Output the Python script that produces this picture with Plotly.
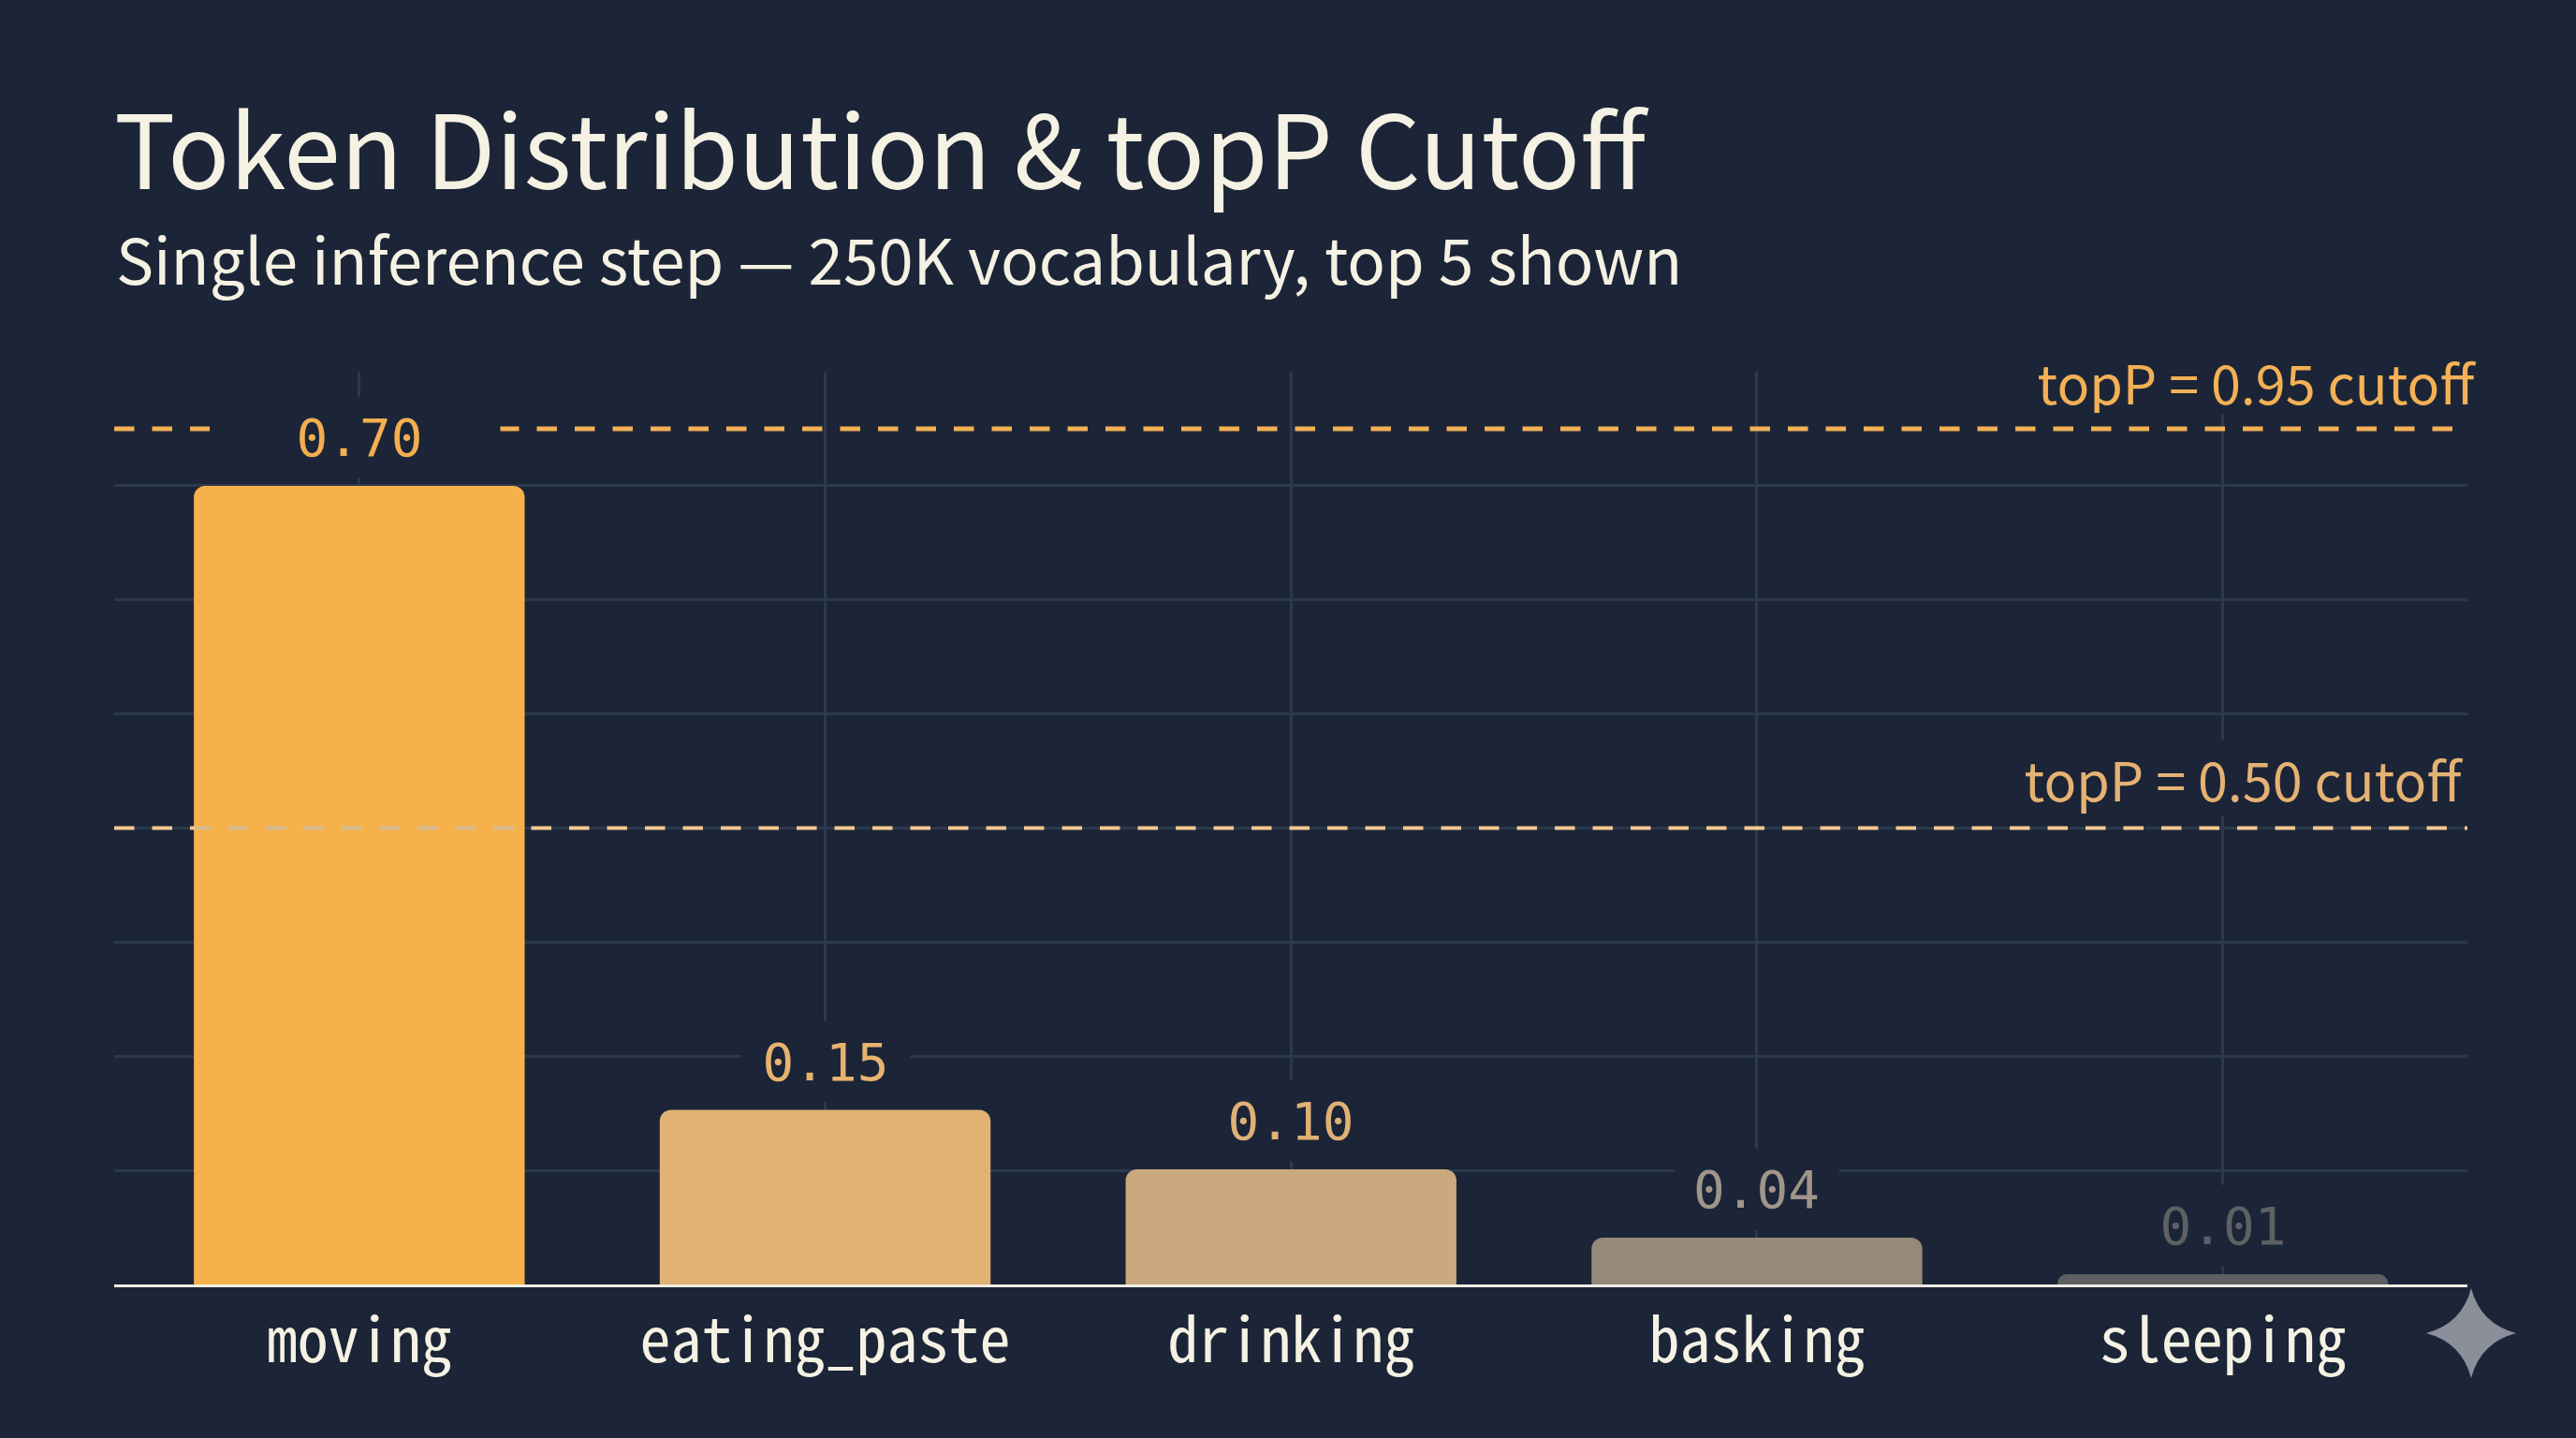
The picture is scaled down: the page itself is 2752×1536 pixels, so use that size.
import plotly.graph_objects as go

W, H = 2752, 1536
L, R, T, B = 122, 2636, 397, 1372

categories = ["moving", "eating_paste", "drinking", "basking", "sleeping"]
values = [0.70, 0.153, 0.101, 0.041, 0.009]
value_labels = ["0.70", "0.15", "0.10", "0.04", "0.01"]
bar_colors = ["#F7B14B", "#E2B272", "#C9A97D", "#96897A", "#5E5F63"]
label_colors = ["#F3AE50", "#E8B26F", "#E0B076", "#A0958A", "#5F6064"]
label_box_widths = [298, 178, 178, 173, 178]
cutoff_positions = [0.75, 0.40]
cutoff_labels = ["topP = 0.95 cutoff", "topP = 0.50 cutoff"]
cutoff_colors = ["#F4B055", "#F6C88F"]
cutoff_text_colors = ["#F4B055", "#E5B274"]
cutoff_widths = [5, 4]

BG = "#1B2537"
GRID = "#2C384C"
CREAM = "#F5F1E3"
SANS = "Noto Sans CJK SC"
MONO = "Noto Sans Mono CJK SC, DejaVu Sans Mono"
VALUE_FONT = "DejaVu Sans Mono"
DASH = "21.5px,19px"


def px(x):
    return (x - L) / (R - L)


def py(y):
    return (B - y) / (B - T)


fig = go.Figure()
fig.add_trace(go.Bar(
    x=list(range(len(categories))), y=values, width=0.71,
    marker=dict(color=bar_colors, line_width=0, cornerradius=12),
    showlegend=False, hoverinfo="skip",
))


def cutoff_line(v, x0, x1, color, width, dash=DASH):
    return dict(type="line", xref="paper", x0=px(x0), x1=px(x1), yref="y", y0=v, y1=v,
                line=dict(color=color, width=width, dash=dash), layer="above")


shapes = [
    cutoff_line(cutoff_positions[0], 122, 224, cutoff_colors[0], cutoff_widths[0]),
    cutoff_line(cutoff_positions[0], 533, 2636, cutoff_colors[0], cutoff_widths[0]),
    cutoff_line(cutoff_positions[1], 122, 2636, cutoff_colors[1], cutoff_widths[1]),
    # faded dashes where the lower cutoff crosses the tallest bar
    cutoff_line(cutoff_positions[1], 208, 225, "#D9B987", cutoff_widths[1] + 0.5, dash="solid"),
    cutoff_line(cutoff_positions[1], 243.5, 560, "#D9B987", cutoff_widths[1] + 0.5),
]
cx, cy, k = 2640, 1424, 10
shapes.append(dict(
    type="path", xref="paper", yref="paper", fillcolor="#8A8F9A", line_width=0, layer="above",
    path=(f"M {px(cx)} {py(1376)} Q {px(cx + k)} {py(cy - k)} {px(2688)} {py(cy)} "
          f"Q {px(cx + k)} {py(cy + k)} {px(cx)} {py(1472)} "
          f"Q {px(cx - k)} {py(cy + k)} {px(2592)} {py(cy)} "
          f"Q {px(cx - k)} {py(cy - k)} {px(cx)} {py(1376)} Z"),
))

annotations = []
for i, (v, t, c, w) in enumerate(zip(values, value_labels, label_colors, label_box_widths)):
    annotations.append(dict(x=i, y=v, xref="x", yref="y", text=t, showarrow=False, yshift=52,
                            xanchor="center", yanchor="middle", width=w, height=84, align="center", valign="middle",
                            bgcolor=BG, font=dict(family=VALUE_FONT, size=56, color=c)))
annotations.append(dict(x=px(2411), y=py(407), xref="paper", yref="paper", text=cutoff_labels[0], showarrow=False,
                        xanchor="center", yanchor="middle", width=504, height=68, align="center", valign="middle",
                        bgcolor=BG, font=dict(family=SANS, size=57.5, color=cutoff_text_colors[0])))
annotations.append(dict(x=px(2397), y=py(831), xref="paper", yref="paper", text=cutoff_labels[1], showarrow=False,
                        xanchor="center", yanchor="middle", width=504, height=78, align="center", valign="middle",
                        bgcolor=BG, font=dict(family=SANS, size=57.5, color=cutoff_text_colors[1])))
annotations.append(dict(x=px(122), y=py(274), xref="paper", yref="paper", showarrow=False, xanchor="left", yanchor="middle",
                        text="Single inference step — 250K vocabulary, top 5 shown",
                        font=dict(family=SANS, size=67.3, color=CREAM)))

fig.update_layout(
    width=W, height=H, margin=dict(l=L, r=W - R, t=T, b=H - B),
    paper_bgcolor=BG, plot_bgcolor=BG,
    title=dict(text="Token Distribution & topP Cutoff", x=122 / W, xref="container", xanchor="left",
               y=1 - 164 / H, yref="container", yanchor="middle",
               font=dict(family=SANS, size=109, color=CREAM)),
    shapes=shapes, annotations=annotations,
    xaxis=dict(range=[-0.526, 4.525], tickmode="array", tickvals=list(range(len(categories))), ticktext=categories,
               showgrid=True, gridcolor=GRID, gridwidth=3, zeroline=False,
               showline=True, linecolor="#F0EDE4", linewidth=3, ticks="", ticklen=0, ticklabelstandoff=1,
               tickfont=dict(family=MONO, size=66, color=CREAM)),
    yaxis=dict(range=[0, 0.8], tickmode="linear", tick0=0, dtick=0.1, showticklabels=False, ticks="",
               showgrid=True, gridcolor=GRID, gridwidth=3, zeroline=False),
)

fig.write_html("out.html", config={"displayModeBar": False}, post_script=(
    "document.body.style.margin='0';document.body.style.background='%s';"
    "document.documentElement.style.overflow='hidden';" % BG))
